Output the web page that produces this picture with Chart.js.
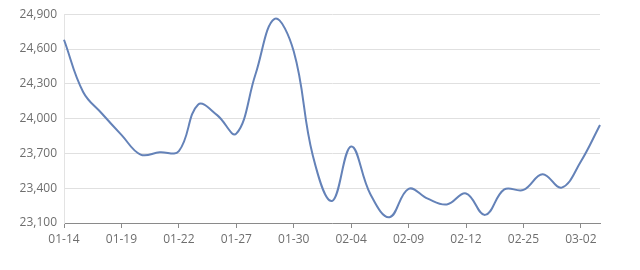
<!DOCTYPE html>
<html>
<head>
<meta charset="utf-8">
<script src="https://cdn.jsdelivr.net/npm/chart.js@4"></script>
<style>
	html, body { margin: 0; padding: 0; background: #fff; }
	#wrap { width: 640px; height: 270px; }
</style>
</head>
<body>
<div id="wrap"><canvas id="price_chart" width="640" height="270"></canvas></div>
<script>
var labels = ['01-14', '01-15', '01-18', '01-19', '01-20', '01-21', '01-22', '01-25', '01-26', '01-27',
		'01-28', '01-29', '01-30', '02-01', '02-03', '02-04', '02-05', '02-08', '02-09', '02-10',
		'02-11', '02-12', '02-22', '02-23', '02-25', '02-26', '03-01', '03-02', '03-03'],
	prices = [24680, 24230, 24040, 23860, 23690, 23710, 23720, 24120, 24030, 23870,
		24380, 24860, 24580, 23680, 23290, 23760, 23350, 23150, 23395, 23310,
		23260, 23355, 23170, 23390, 23385, 23520, 23405, 23630, 23945],
	yTicks = [23100, 23400, 23700, 24000, 24300, 24600, 24900],
	lineColor = '#6482b8',
	textColor = '#6e6e6e';

Chart.defaults.font.family = '"Open Sans", "Noto Sans", sans-serif';
Chart.defaults.font.size = 12;
Chart.defaults.color = textColor;

var config = {
	type: 'line',
	data: {
		labels: labels,
		datasets: [{
			data: prices,
			borderColor: lineColor,
			borderWidth: 2,
			pointRadius: 0,
			tension: 0.4,
			fill: false
		}]
	},
	options: {
		responsive: false,
		animation: false,
		layout: { padding: { top: 10, right: 40, left: 0, bottom: 0 } },
		plugins: {
			legend: { display: false },
			tooltip: { enabled: false }
		},
		scales: {
			x: {
				type: 'category',
				offset: false,
				border: { color: '#8a8a8a', width: 1 },
				grid: {
					drawOnChartArea: false,
					drawTicks: true,
					tickLength: 5,
					color: '#8a8a8a'
				},
				ticks: {
					autoSkip: false,
					maxRotation: 0,
					padding: 4,
					callback: function(value, index) {
						return index % 3 === 0 ? labels[index] : null;
					}
				},
				afterFit: function(scale) { scale.height = 47; }
			},
			y: {
				min: yTicks[0],
				max: yTicks[yTicks.length - 1],
				border: { display: true, color: '#e3e3e3' },
				grid: { color: '#e0e0e0', drawTicks: false },
				afterBuildTicks: function(scale) {
					scale.ticks = yTicks.map(function(v) { return { value: v }; });
				},
				ticks: {
					padding: 7,
					callback: function(value) {
						return value.toLocaleString('en-US');
					}
				},
				afterFit: function(scale) { scale.width = 64; }
			}
		}
	}
};

new Chart(document.getElementById('price_chart').getContext('2d'), config);
</script>
</body>
</html>
